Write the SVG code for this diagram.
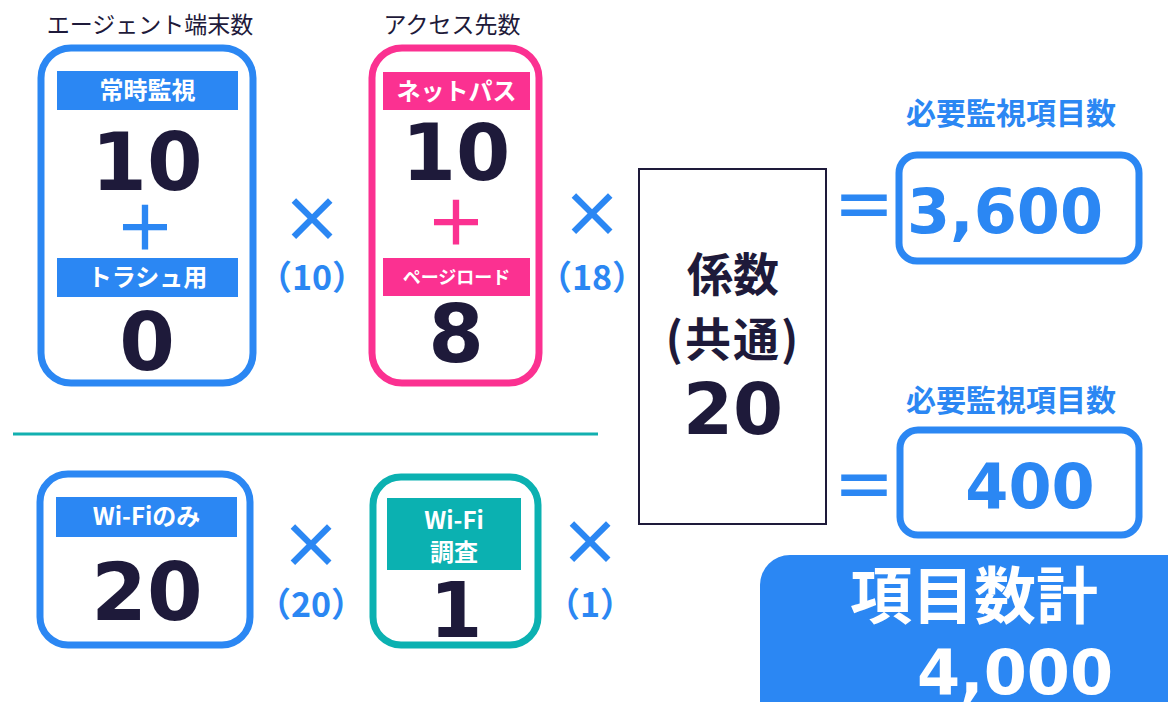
<svg xmlns="http://www.w3.org/2000/svg" width="1168" height="702" viewBox="0 0 1168 702">
<style>
.jp{font-family:"Noto Sans CJK JP","Noto Sans",sans-serif}
.hd{font-size:23px;fill:#1e1a3a;text-anchor:middle}
.lb{font-size:24px;font-weight:bold;fill:#fff;text-anchor:middle}
.num{font-family:"DejaVu Sans","Noto Sans",sans-serif;font-weight:bold;fill:#1e1a3a;text-anchor:middle}
.bnum{font-family:"DejaVu Sans","Noto Sans",sans-serif;font-weight:bold;fill:#2b87f3;text-anchor:middle}
.op{font-family:"Noto Sans CJK JP",sans-serif;font-weight:bold;text-anchor:middle}
.par{font-family:"Noto Sans CJK JP",sans-serif;font-weight:bold;font-size:34px;fill:#2b87f3;text-anchor:middle}
.req{font-family:"Noto Sans CJK JP",sans-serif;font-weight:bold;font-size:30px;fill:#2b87f3;text-anchor:middle}
</style>
<g id="divider"><line x1="13" y1="434" x2="598" y2="434" stroke="#12b0b0" stroke-width="3"/></g>
<g id="agent">
<text class="jp hd" x="150" y="33">エージェント端末数</text>
<rect x="41" y="48" width="212" height="335" rx="30" fill="#fff" stroke="#2b87f3" stroke-width="7"/>
<rect x="57" y="71" width="181" height="39" fill="#2b87f3"/>
<text class="jp lb" x="147.5" y="99">常時監視</text>
<text class="num" x="147" y="190" font-size="80">10</text>
<text class="op" x="145" y="251" font-size="62" fill="#2b87f3">＋</text>
<rect x="57" y="258" width="181" height="39" fill="#2b87f3"/>
<text class="jp lb" x="147.5" y="286">トラシュ用</text>
<text class="num" x="147" y="370" font-size="80">0</text>
</g>
<g id="access">
<text class="jp hd" x="452" y="33">アクセス先数</text>
<rect x="372" y="48" width="167" height="335" rx="30" fill="#fff" stroke="#fb3191" stroke-width="7"/>
<rect x="383" y="72" width="147" height="38" fill="#fb3191"/>
<text class="jp lb" x="456.5" y="100">ネットパス</text>
<text class="num" x="456" y="180" font-size="78">10</text>
<text class="op" x="456" y="246" font-size="62" fill="#fb3191">＋</text>
<rect x="383" y="258" width="147" height="38" fill="#fb3191"/>
<text class="jp lb" x="456.5" y="284" style="font-size:18px">ページロード</text>
<text class="num" x="456" y="362" font-size="80">8</text>
</g>
<g id="ops1">
<text class="op" x="312" y="243" font-size="62" fill="#2b87f3">×</text>
<text class="par" x="312" y="290">（10）</text>
<text class="op" x="592" y="238" font-size="62" fill="#2b87f3">×</text>
<text class="par" x="592" y="290">（18）</text>
</g>
<g id="coef">
<rect x="639" y="169" width="187" height="355" fill="#fff" stroke="#1e1a3a" stroke-width="2"/>
<text class="jp" x="733" y="291" font-size="46" font-weight="bold" fill="#1e1a3a" text-anchor="middle">係数</text>
<text class="jp" x="733" y="356" font-size="46" font-weight="bold" fill="#1e1a3a" text-anchor="middle" letter-spacing="2">(共通)</text>
<text class="num" x="733" y="434" font-size="72">20</text>
</g>
<g id="result1">
<text class="req" x="1011" y="124">必要監視項目数</text>
<text class="op" x="864" y="230" font-size="64" fill="#2b87f3">＝</text>
<rect x="899" y="155" width="240" height="106" rx="18" fill="#fff" stroke="#2b87f3" stroke-width="7"/>
<text class="bnum" x="1005" y="233" font-size="62">3,600</text>
</g>
<g id="result2">
<text class="req" x="1011" y="411">必要監視項目数</text>
<text class="op" x="864" y="510" font-size="64" fill="#2b87f3">＝</text>
<rect x="900" y="430" width="239" height="105" rx="18" fill="#fff" stroke="#2b87f3" stroke-width="7"/>
<text class="bnum" x="1030" y="508" font-size="62">400</text>
</g>
<g id="wifi">
<rect x="40" y="474" width="210" height="171" rx="28" fill="#fff" stroke="#2b87f3" stroke-width="7"/>
<rect x="56" y="497" width="181" height="40" fill="#2b87f3"/>
<text class="jp lb" x="146.5" y="525">Wi-Fiのみ</text>
<text class="num" x="147" y="620" font-size="80">20</text>
</g>
<g id="survey">
<rect x="373" y="477" width="165" height="168" rx="28" fill="#fff" stroke="#0bb1b1" stroke-width="7"/>
<rect x="387" y="498" width="134" height="72" fill="#0bb1b1"/>
<text class="jp lb" x="454" y="529">Wi-Fi</text>
<text class="jp lb" x="454" y="561">調査</text>
<text class="num" x="456" y="637" font-size="76">1</text>
</g>
<g id="ops2">
<text class="op" x="311" y="569" font-size="62" fill="#2b87f3">×</text>
<text class="par" x="311" y="617">（20）</text>
<text class="op" x="590" y="566" font-size="62" fill="#2b87f3">×</text>
<text class="par" x="590" y="617">（1）</text>
</g>
<g id="total">
<rect x="760" y="555" width="440" height="180" rx="30" fill="#2b87f3"/>
<text class="jp" x="974" y="619" font-size="62" font-weight="bold" fill="#fff" text-anchor="middle">項目数計</text>
<text x="1015" y="694" font-family="DejaVu Sans,sans-serif" font-size="62" font-weight="bold" fill="#fff" text-anchor="middle">4,000</text>
</g>
</svg>
